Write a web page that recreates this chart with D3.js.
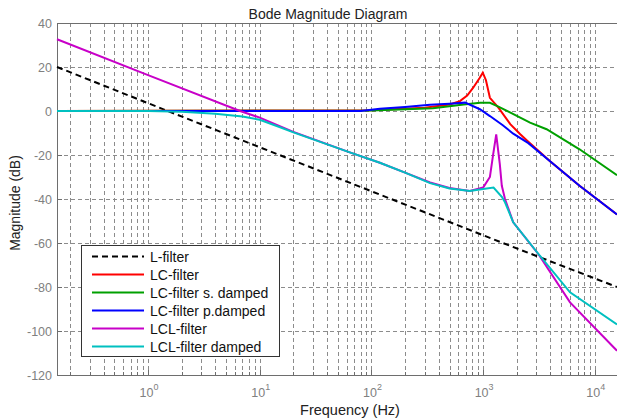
<!DOCTYPE html>
<html>
<head>
<meta charset="utf-8">
<script src="https://cdn.jsdelivr.net/npm/d3@7"></script>
<style>
  body { margin: 0; background: #fff; }
  text { font-family: "Liberation Sans", Arial, sans-serif; }
  .grid line { stroke: #8c8c8c; stroke-width: 1; stroke-dasharray: 4,3; }
  .tick-label { fill: #808080; font-size: 12.5px; }
</style>
</head>
<body>
<svg width="617" height="419"></svg>
<script>
// values (frequency in Hz, magnitude in dB)
var lFreq = [0.153, 1.5, 15, 150, 1500, 15800];
var lMag  = [20, 0, -20, -40, -60, -80];

var lcFreq = [0.153, 100, 300, 500, 620, 720, 815, 930, 993, 1060, 1150, 1370, 1750, 2150, 2540, 4000, 7300, 15800];
var lcMag  = [0, 0.3, 1.5, 3, 4.5, 7, 10.6, 15, 17.4, 14, 6, 1.5, -6, -10.6, -14, -23, -34, -47];

var lcsFreq = [0.153, 100, 355, 670, 940, 1150, 1370, 2150, 2630, 3700, 7300, 15800];
var lcsMag  = [0, 0.2, 1.2, 3, 3.8, 3.7, 2, -3, -5.3, -8.3, -17.4, -29.2];

var lcpFreq = [0.153, 80, 119, 200, 335, 500, 690, 935, 1150, 1500, 1860, 2540, 4000, 7300, 15800];
var lcpMag  = [0, 0, 1, 1.8, 2.8, 3.3, 3.8, 0.8, -2.3, -6.5, -10.3, -14.6, -23, -34, -47];

var lclFreq = [0.153, 1, 6.66, 10, 20, 64, 119, 200, 335, 500, 760, 1000, 1150, 1230, 1310, 1410, 1470, 1570, 1860, 3130, 6000, 15800];
var lclMag  = [32.6, 16.3, 0, -3, -9.5, -18.8, -23.5, -28, -32.5, -35, -36.4, -34.8, -30, -19.7, -10.6, -24, -34, -40, -50.6, -65.1, -87, -109];

var lcldFreq = [0.153, 1, 2, 4, 7, 10, 15, 20, 64, 119, 200, 335, 500, 760, 1000, 1240, 1470, 1570, 1860, 3130, 6000, 15800];
var lcldMag  = [0, 0, -0.3, -1.2, -2.5, -4, -7.3, -9.7, -18.8, -23.5, -28, -32.8, -35.2, -36.4, -35.5, -34.8, -39, -41.5, -50.6, -65, -82.4, -97];

var seriesNames = ["L-filter", "LC-filter", "LC-filter s. damped", "LC-filter p.damped", "LCL-filter", "LCL-filter damped"];
var seriesColors = ["#000000", "#ff0000", "#00a000", "#0000ff", "#c800c8", "#00c0c0"];

var yTicks = [40, 20, 0, -20, -40, -60, -80, -100, -120];
var xTickExp = [0, 1, 2, 3, 4];

var svg = d3.select("svg");

var x = d3.scaleLog()
    .domain([0.153, 15800])
    .range([57, 617]);

var y = d3.scaleLinear()
    .domain([-120, 40])
    .range([375, 23]);

// minor + major frequencies for the grid
var gridFreq = [];
for (var e = -1; e <= 4; e++) {
  for (var m = 1; m < 10; m++) {
    var f = m * Math.pow(10, e);
    if (f > x.domain()[0] && f < x.domain()[1]) gridFreq.push(f);
  }
}

var grid = svg.append("g").attr("class", "grid");

grid.selectAll(".vg")
  .data(gridFreq)
  .enter().append("line")
    .attr("class", "vg")
    .attr("x1", function(d) { return Math.round(x(d)) + 0.5; })
    .attr("x2", function(d) { return Math.round(x(d)) + 0.5; })
    .attr("y1", y(40))
    .attr("y2", y(-120));

grid.selectAll(".hg")
  .data(yTicks.slice(1, -1))
  .enter().append("line")
    .attr("class", "hg")
    .attr("x1", x.range()[0])
    .attr("x2", x.range()[1])
    .attr("y1", function(d) { return Math.round(y(d)) + 0.5; })
    .attr("y2", function(d) { return Math.round(y(d)) + 0.5; });

// frame (left, top, bottom)
svg.append("path")
    .attr("d", "M617,23.5H57.5V375.5H617")
    .attr("fill", "none")
    .attr("stroke", "#6e6e6e")
    .attr("stroke-width", 1);

// small ticks on the frame
svg.append("g").selectAll("line")
  .data(gridFreq)
  .enter().append("line")
    .attr("x1", function(d) { return Math.round(x(d)) + 0.5; })
    .attr("x2", function(d) { return Math.round(x(d)) + 0.5; })
    .attr("y1", y(-120))
    .attr("y2", function(d) { return y(-120) - (Math.abs(Math.log10(d) % 1) < 1e-9 ? 5 : 3); })
    .attr("stroke", "#6e6e6e");

svg.append("g").selectAll("line")
  .data(yTicks)
  .enter().append("line")
    .attr("x1", 57)
    .attr("x2", 62)
    .attr("y1", function(d) { return Math.round(y(d)) + 0.5; })
    .attr("y2", function(d) { return Math.round(y(d)) + 0.5; })
    .attr("stroke", "#6e6e6e");

// y tick labels
svg.append("g").selectAll("text")
  .data(yTicks)
  .enter().append("text")
    .attr("class", "tick-label")
    .attr("x", 52)
    .attr("y", function(d) { return y(d) + 4.5; })
    .attr("text-anchor", "end")
    .text(function(d) { return d; });

// x tick labels 10^n
var xl = svg.append("g").selectAll("text")
  .data(xTickExp)
  .enter().append("text")
    .attr("class", "tick-label")
    .attr("x", function(d) { return x(Math.pow(10, d)) + 1; })
    .attr("y", 397)
    .attr("text-anchor", "middle");
xl.append("tspan").text("10");
xl.append("tspan")
    .attr("dy", -7)
    .attr("font-size", "9px")
    .text(function(d) { return d; });

// curves
var line = d3.line()
    .x(function(d) { return x(d[0]); })
    .y(function(d) { return y(d[1]); });

var series = [
  d3.zip(lFreq, lMag),
  d3.zip(lcFreq, lcMag),
  d3.zip(lcsFreq, lcsMag),
  d3.zip(lcpFreq, lcpMag),
  d3.zip(lclFreq, lclMag),
  d3.zip(lcldFreq, lcldMag)
];

svg.append("g").selectAll("path")
  .data(series)
  .enter().append("path")
    .attr("d", line)
    .attr("fill", "none")
    .attr("stroke", function(d, i) { return seriesColors[i]; })
    .attr("stroke-width", 2)
    .attr("stroke-dasharray", function(d, i) { return i == 0 ? "6,4" : null; });

// legend
var legend = svg.append("g")
    .attr("transform", "translate(81,245)");

legend.append("rect")
    .attr("x", 0.5)
    .attr("y", 0.5)
    .attr("width", 198)
    .attr("height", 111)
    .attr("fill", "#fff")
    .attr("stroke", "#333")
    .attr("stroke-width", 1);

var item = legend.selectAll(".item")
  .data(seriesNames)
  .enter().append("g")
    .attr("class", "item")
    .attr("transform", function(d, i) { return "translate(0," + (11.5 + i * 18) + ")"; });

item.append("line")
    .attr("x1", 11)
    .attr("x2", 63)
    .attr("stroke", function(d, i) { return seriesColors[i]; })
    .attr("stroke-width", 2)
    .attr("stroke-dasharray", function(d, i) { return i == 0 ? "6,4" : null; });

item.append("text")
    .attr("x", 69)
    .attr("y", 5)
    .attr("font-size", "14px")
    .attr("fill", "#111")
    .text(function(d) { return d; });

// titles
svg.append("text")
    .attr("x", 328)
    .attr("y", 19)
    .attr("text-anchor", "middle")
    .attr("font-size", "14px")
    .attr("fill", "#222")
    .text("Bode Magnitude Diagram");

svg.append("text")
    .attr("x", 350)
    .attr("y", 415)
    .attr("text-anchor", "middle")
    .attr("font-size", "14.5px")
    .attr("fill", "#222")
    .text("Frequency (Hz)");

svg.append("text")
    .attr("transform", "translate(20,203) rotate(-90)")
    .attr("text-anchor", "middle")
    .attr("font-size", "14px")
    .attr("fill", "#222")
    .text("Magnitude (dB)");
</script>
</body>
</html>
